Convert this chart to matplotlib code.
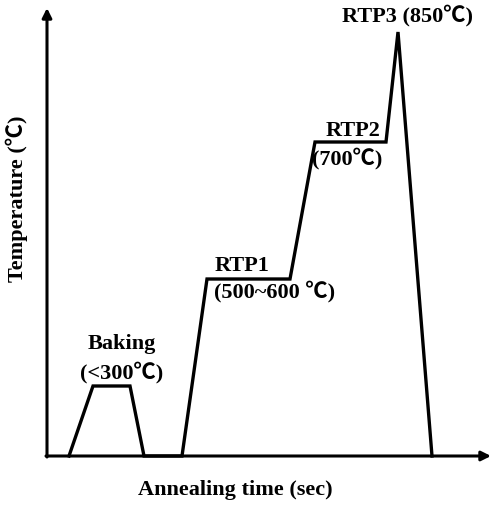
import matplotlib
matplotlib.use("Agg")
import matplotlib.pyplot as plt

# Schematic annealing profile (arbitrary units)
time = [22, 46, 83, 97, 135, 160, 243, 268, 339, 351, 385]
temp = [0, 70, 70, 0, 0, 177, 177, 314, 314, 424, 0]

stage_labels = ["Baking", "(<300℃)", "RTP1", "(500~600 ℃)", "RTP2", "(700℃)", "RTP3 (850℃)"]
stage_pos = [(75, 112), (75, 83), (195, 190), (228, 164), (306, 325), (300, 297), (360, 440)]

xlabel = "Annealing time (sec)"
ylabel = "Temperature (℃)"

fam = ["Liberation Serif", "Noto Sans CJK KR", "DejaVu Serif"]
fs = 16

fig = plt.figure(figsize=(4.92, 5.07), dpi=100)
ax = fig.add_axes([0, 0, 1, 1])
ax.set_xlim(-47, 445)
ax.set_ylim(-51, 456)
ax.axis("off")

# axes with arrows
ax.annotate("", xy=(0, 448), xytext=(0, -1),
            arrowprops=dict(arrowstyle="-|>", lw=2.2, color="black", mutation_scale=14, shrinkA=0, shrinkB=0))
ax.annotate("", xy=(444, 0), xytext=(-1, 0),
            arrowprops=dict(arrowstyle="-|>", lw=2.2, color="black", mutation_scale=14, shrinkA=0, shrinkB=0))

ax.plot(time, temp, color="black", lw=2.4, solid_joinstyle="miter", clip_on=False)

for lab, (x, y) in zip(stage_labels, stage_pos):
    ax.text(x, y, lab, ha="center", va="center", fontsize=fs, fontweight="bold", family=fam)

ax.text(188, -34, xlabel, ha="center", va="center", fontsize=fs, fontweight="bold", family=fam)
ax.text(-30, 257, ylabel, ha="center", va="center", rotation=90, fontsize=fs, fontweight="bold", family=fam)

fig.savefig("out.png", dpi=100)
